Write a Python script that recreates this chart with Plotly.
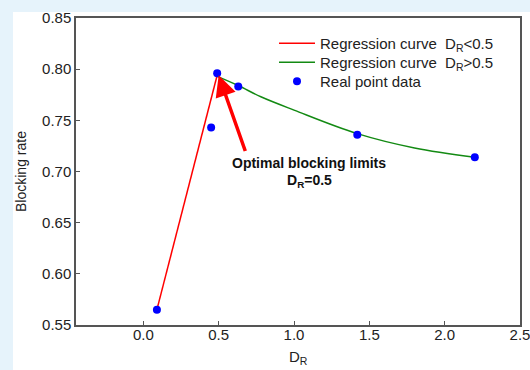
import plotly.graph_objects as go

# Real point data
pts_x = [0.09, 0.45, 0.49, 0.63, 1.42, 2.2]
pts_y = [0.565, 0.743, 0.796, 0.783, 0.736, 0.714]

# Regression curve D_R < 0.5
red_x = [0.09, 0.49]
red_y = [0.565, 0.794]

# Regression curve D_R > 0.5
green_x = [0.49, 0.63, 0.78, 1.0, 1.42, 1.8, 2.2]
green_y = [0.793, 0.784, 0.773, 0.760, 0.737, 0.723, 0.714]

x_ticks = [0.0, 0.5, 1.0, 1.5, 2.0, 2.5]
y_ticks = [0.55, 0.60, 0.65, 0.70, 0.75, 0.80, 0.85]

W, H = 530, 370
L, R, T, B = 76, 10, 18, 45
pw, ph = W - L - R, H - T - B

def px_x(p):
    return (p - L) / pw

def px_y(p):
    return (H - B - p) / ph

font = "Liberation Sans, Arial, sans-serif"
tickfont = dict(family=font, size=15, color="#222")

fig = go.Figure()
fig.add_trace(go.Scatter(x=red_x, y=red_y, mode="lines",
                         line=dict(color="#ff0000", width=1.5),
                         name="Regression curve  D<sub>R</sub>&lt;0.5",
                         legend="legend"))
fig.add_trace(go.Scatter(x=green_x, y=green_y, mode="lines",
                         line=dict(color="#138a13", width=1.5, shape="spline"),
                         name="Regression curve  D<sub>R</sub>&gt;0.5",
                         legend="legend2"))
fig.add_trace(go.Scatter(x=pts_x, y=pts_y, mode="markers",
                         marker=dict(color="#0000ff", size=8),
                         name="Real point data", legend="legend3"))

fig.add_annotation(x=0.5, y=0.794, ax=0.68, ay=0.7186, xref="x", yref="y",
                   axref="x", ayref="y", text="", showarrow=True,
                   arrowhead=2, arrowsize=1.2, arrowwidth=3.5, arrowcolor="#ff0000")
fig.add_annotation(x=px_x(309), y=px_y(163), xref="paper", yref="paper",
                   xanchor="center", yanchor="middle",
                   text="<b>Optimal blocking limits</b>", showarrow=False,
                   font=dict(size=14, color="#111", family=font))
fig.add_annotation(x=px_x(309), y=px_y(181), xref="paper", yref="paper",
                   xanchor="center", yanchor="middle",
                   text="<b>D<sub>R</sub>=0.5</b>", showarrow=False,
                   font=dict(size=14, color="#111", family=font))

# axis titles
fig.add_annotation(x=px_x(21), y=px_y(172), xref="paper", yref="paper",
                   xanchor="center", yanchor="middle",
                   text="Blocking rate", textangle=-90, showarrow=False,
                   font=dict(size=14, color="#222", family=font))
fig.add_annotation(x=px_x(298), y=px_y(346), xref="paper", yref="paper",
                   xanchor="center", yanchor="top",
                   text="D<sub>R</sub>", showarrow=False,
                   font=dict(size=15, color="#222", family=font))

fig.add_shape(type="rect", xref="paper", yref="paper", layer="below",
              x0=px_x(13), x1=px_x(540), y0=px_y(380), y1=px_y(12),
              fillcolor="white", line=dict(width=0))

def leg(top):
    return dict(x=px_x(274), y=px_y(top), xanchor="left", yanchor="top",
                bgcolor="rgba(0,0,0,0)", font=dict(family=font, size=15, color="#222"),
                itemwidth=36)

fig.update_layout(
    width=W, height=H,
    margin=dict(l=L, r=R, t=T, b=B, autoexpand=False),
    paper_bgcolor="#e6f3fb", plot_bgcolor="white",
    font=dict(family=font, size=15, color="#222"),
    showlegend=True,
    legend=leg(27), legend2=leg(46), legend3=leg(65),
    xaxis=dict(range=[-0.447, 2.5], tickvals=x_ticks,
               ticktext=[f"{v:.1f}" for v in x_ticks], tickfont=tickfont,
               ticks="inside", ticklen=4, tickcolor="#555",
               ticklabelstandoff=-5, automargin=False, ticklabeloverflow="allow",
               showgrid=False, zeroline=False, showline=True, mirror=True,
               linecolor="#555", linewidth=1.5),
    yaxis=dict(range=[0.55, 0.85], tickvals=y_ticks,
               ticktext=[f"{v:.2f}" for v in y_ticks], tickfont=tickfont,
               ticks="inside", ticklen=4, tickcolor="#555",
               ticklabeloverflow="allow",
               showgrid=False, zeroline=False, showline=True,
               mirror=True, linecolor="#555", linewidth=1.5, automargin=False),
)

fig.write_html("out.html", config={"displayModeBar": False},
               post_script="document.body.style.margin='0';document.body.style.overflow='hidden';")
